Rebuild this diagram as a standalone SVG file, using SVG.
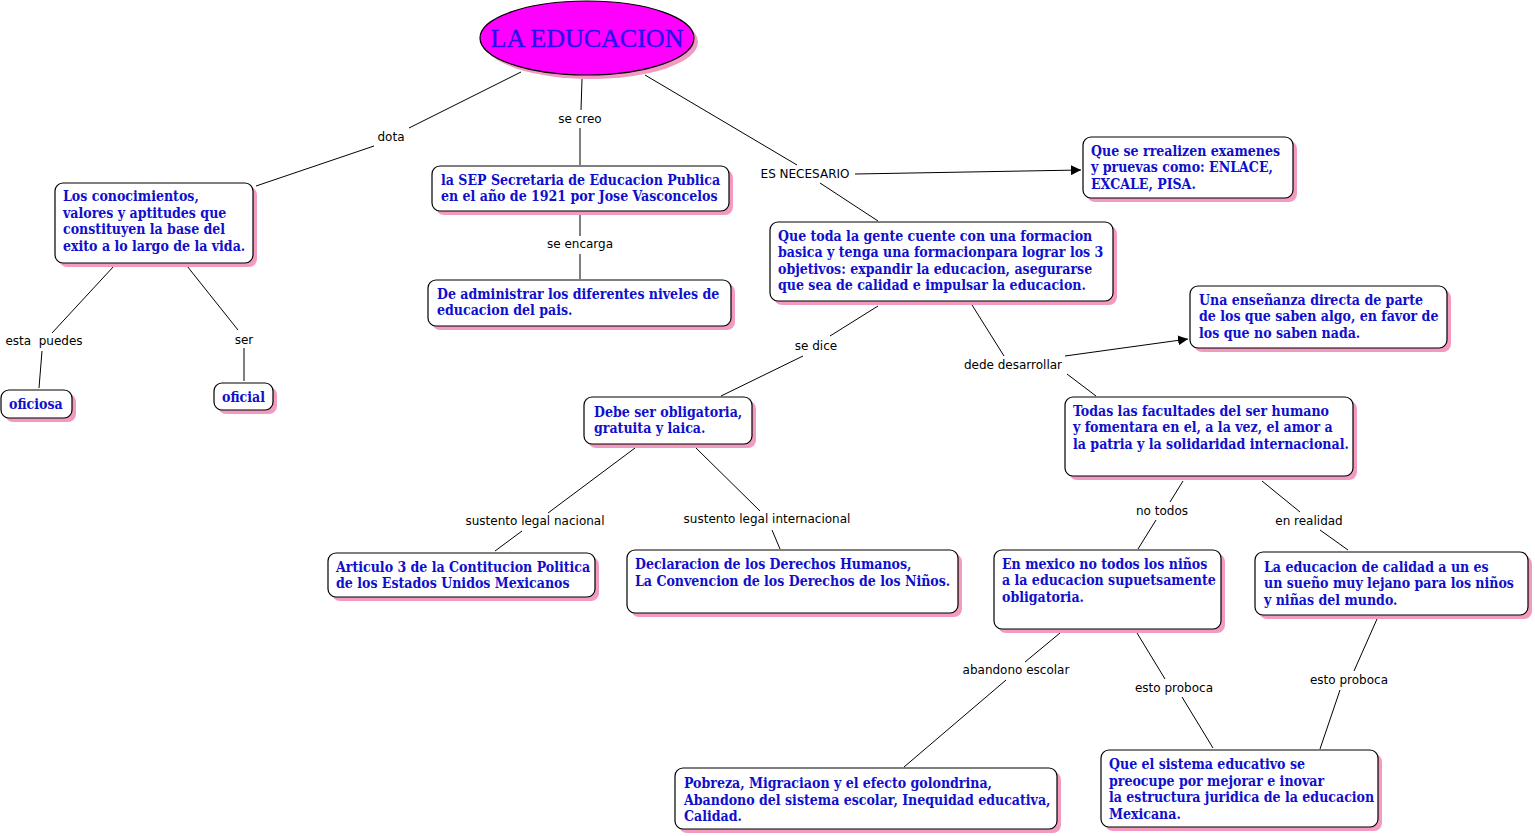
<svg xmlns="http://www.w3.org/2000/svg" width="1535" height="836" viewBox="0 0 1535 836">
<style>
.box{fill:#fff;stroke:#000;stroke-width:1.2}
.sh{fill:#f29ac0}
.b{font-family:"DejaVu Serif Condensed","DejaVu Serif",serif;font-weight:bold;font-size:14px;fill:#0f0fcc}
.lbl{font-family:"DejaVu Sans",Verdana,sans-serif;font-size:12px;fill:#000}
.c line{stroke:#000;stroke-width:1}
</style>
<defs>
<marker id="ar" viewBox="0 0 10 10" refX="10" refY="5" markerWidth="10" markerHeight="10" markerUnits="userSpaceOnUse" orient="auto"><path d="M0,0L10,5L0,10z" fill="#000"/></marker>
</defs>
<rect width="1535" height="836" fill="#fff"/>
<g class="c">
<line x1="521" y1="72" x2="409" y2="128"/>
<line x1="374" y1="146" x2="256" y2="186"/>
<line x1="582" y1="79" x2="581" y2="110"/>
<line x1="580" y1="128" x2="580" y2="165"/>
<line x1="580" y1="214" x2="580" y2="236"/>
<line x1="580" y1="254" x2="580" y2="279"/>
<line x1="645" y1="75" x2="797" y2="165"/>
<line x1="855" y1="174" x2="1081" y2="170" marker-end="url(#ar)"/>
<line x1="820" y1="183" x2="878" y2="221"/>
<line x1="878" y1="306" x2="830" y2="336"/>
<line x1="803" y1="356" x2="721" y2="396"/>
<line x1="972" y1="305" x2="1004" y2="356"/>
<line x1="1065" y1="356" x2="1188" y2="339" marker-end="url(#ar)"/>
<line x1="1067" y1="374" x2="1096" y2="396"/>
<line x1="114" y1="266" x2="52" y2="333"/>
<line x1="42" y1="351" x2="39" y2="388"/>
<line x1="187" y1="266" x2="238" y2="330"/>
<line x1="244" y1="348" x2="244" y2="381"/>
<line x1="635" y1="448" x2="548" y2="513"/>
<line x1="522" y1="531" x2="495" y2="551"/>
<line x1="696" y1="448" x2="760" y2="511"/>
<line x1="772" y1="530" x2="780" y2="549"/>
<line x1="1183" y1="481" x2="1170" y2="502"/>
<line x1="1156" y1="520" x2="1138" y2="549"/>
<line x1="1262" y1="481" x2="1300" y2="512"/>
<line x1="1320" y1="530" x2="1348" y2="550"/>
<line x1="1060" y1="633" x2="1025" y2="662"/>
<line x1="1006" y1="680" x2="904" y2="767"/>
<line x1="1137" y1="633" x2="1165" y2="679"/>
<line x1="1182" y1="697" x2="1213" y2="748"/>
<line x1="1377" y1="619" x2="1354" y2="671"/>
<line x1="1340" y1="690" x2="1320" y2="749"/>
<g class="lbl" text-anchor="middle">
<text x="391" y="141">dota</text>
<text x="580" y="123">se creo</text>
<text x="580" y="248">se encarga</text>
<text x="805" y="178">ES NECESARIO</text>
<text x="816" y="350">se dice</text>
<text x="1013" y="369">dede desarrollar</text>
<text x="44" y="345" xml:space="preserve">esta  puedes</text>
<text x="244" y="344">ser</text>
<text x="535" y="525">sustento legal nacional</text>
<text x="767" y="523">sustento legal internacional</text>
<text x="1162" y="515">no todos</text>
<text x="1309" y="525">en realidad</text>
<text x="1016" y="674">abandono escolar</text>
<text x="1174" y="692">esto proboca</text>
<text x="1349" y="684">esto proboca</text>
</g>
</g>
<g id="n-title">
<ellipse cx="591" cy="42" rx="107" ry="37" class="sh"/>
<ellipse cx="587" cy="38" rx="107" ry="37" fill="#ff00ff" stroke="#000" stroke-width="1.2"/>
<text x="587" y="47" text-anchor="middle" font-family="Liberation Serif,Times New Roman,serif" font-size="26" fill="#2a10f0" stroke="#2a10f0" stroke-width="0.4">LA EDUCACION</text>
</g>
<g id="n1">
<rect x="59" y="187" width="198" height="80" rx="8" class="sh"/>
<rect x="55" y="183" width="198" height="80" rx="8" class="box"/>
<text class="b"><tspan x="63" y="201">Los conocimientos,</tspan><tspan x="63" y="217.5">valores y aptitudes que</tspan><tspan x="63" y="234">constituyen la base del</tspan><tspan x="63" y="250.5">exito a lo largo de la vida.</tspan></text>
</g>
<g id="n2">
<rect x="5" y="394" width="71" height="28" rx="8" class="sh"/>
<rect x="1" y="390" width="71" height="28" rx="8" class="box"/>
<text class="b" x="9" y="409" font-size="15.5">oficiosa</text>
</g>
<g id="n3">
<rect x="218" y="387" width="59" height="27" rx="8" class="sh"/>
<rect x="214" y="383" width="59" height="27" rx="8" class="box"/>
<text class="b" x="222" y="402" font-size="15.5">oficial</text>
</g>
<g id="n4">
<rect x="436" y="170" width="297" height="45" rx="8" class="sh"/>
<rect x="432" y="166" width="297" height="45" rx="8" class="box"/>
<text class="b"><tspan x="441" y="184.5">la SEP Secretaria de Educacion Publica</tspan><tspan x="441" y="201">en el año de 1921 por Jose Vasconcelos</tspan></text>
</g>
<g id="n5">
<rect x="432" y="284" width="303" height="46" rx="8" class="sh"/>
<rect x="428" y="280" width="303" height="46" rx="8" class="box"/>
<text class="b"><tspan x="437" y="298.5">De administrar los diferentes niveles de</tspan><tspan x="437" y="315">educacion del pais.</tspan></text>
</g>
<g id="n6">
<rect x="1087" y="141" width="210" height="61" rx="8" class="sh"/>
<rect x="1083" y="137" width="210" height="61" rx="8" class="box"/>
<text class="b"><tspan x="1091" y="155.5">Que se rrealizen examenes</tspan><tspan x="1091" y="172">y pruevas como: ENLACE,</tspan><tspan x="1091" y="188.5">EXCALE, PISA.</tspan></text>
</g>
<g id="n7">
<rect x="774" y="226" width="343" height="79" rx="8" class="sh"/>
<rect x="770" y="222" width="343" height="79" rx="8" class="box"/>
<text class="b"><tspan x="778" y="240.5">Que toda la gente cuente con una formacion</tspan><tspan x="778" y="257">basica y tenga una formacionpara lograr los 3</tspan><tspan x="778" y="273.5">objetivos: expandir la educacion, asegurarse</tspan><tspan x="778" y="290">que sea de calidad e impulsar la educacion.</tspan></text>
</g>
<g id="n8">
<rect x="1194" y="290" width="257" height="62" rx="8" class="sh"/>
<rect x="1190" y="286" width="257" height="62" rx="8" class="box"/>
<text class="b"><tspan x="1199" y="304.5">Una enseñanza directa de parte</tspan><tspan x="1199" y="321">de los que saben algo, en favor de</tspan><tspan x="1199" y="337.5">los que no saben nada.</tspan></text>
</g>
<g id="n9">
<rect x="588" y="401" width="168" height="47" rx="8" class="sh"/>
<rect x="584" y="397" width="168" height="47" rx="8" class="box"/>
<text class="b"><tspan x="594" y="416.5">Debe ser obligatoria,</tspan><tspan x="594" y="433">gratuita y laica.</tspan></text>
</g>
<g id="n10">
<rect x="1069" y="401" width="288" height="79" rx="8" class="sh"/>
<rect x="1065" y="397" width="288" height="79" rx="8" class="box"/>
<text class="b"><tspan x="1073" y="415.5">Todas las facultades del ser humano</tspan><tspan x="1073" y="432">y fomentara en el, a la vez, el amor a</tspan><tspan x="1073" y="448.5">la patria y la solidaridad internacional.</tspan></text>
</g>
<g id="n11">
<rect x="332" y="557" width="267" height="44" rx="8" class="sh"/>
<rect x="328" y="553" width="267" height="44" rx="8" class="box"/>
<text class="b"><tspan x="336" y="571.5">Articulo 3 de la Contitucion Politica</tspan><tspan x="336" y="588">de los Estados Unidos Mexicanos</tspan></text>
</g>
<g id="n12">
<rect x="631" y="554" width="331" height="63" rx="8" class="sh"/>
<rect x="627" y="550" width="331" height="63" rx="8" class="box"/>
<text class="b"><tspan x="635" y="569">Declaracion de los Derechos Humanos,</tspan><tspan x="635" y="585.5">La Convencion de los Derechos de los Niños.</tspan></text>
</g>
<g id="n13">
<rect x="998" y="554" width="227" height="79" rx="8" class="sh"/>
<rect x="994" y="550" width="227" height="79" rx="8" class="box"/>
<text class="b"><tspan x="1002" y="568.5">En mexico no todos los niños</tspan><tspan x="1002" y="585">a la educacion supuetsamente</tspan><tspan x="1002" y="601.5">obligatoria.</tspan></text>
</g>
<g id="n14">
<rect x="1259" y="556" width="273" height="63" rx="8" class="sh"/>
<rect x="1255" y="552" width="273" height="63" rx="8" class="box"/>
<text class="b"><tspan x="1264" y="571.5">La educacion de calidad a un es</tspan><tspan x="1264" y="588">un sueño muy lejano para los niños</tspan><tspan x="1264" y="604.5">y niñas del mundo.</tspan></text>
</g>
<g id="n15">
<rect x="679" y="772" width="382" height="61" rx="8" class="sh"/>
<rect x="675" y="768" width="382" height="61" rx="8" class="box"/>
<text class="b"><tspan x="684" y="788">Pobreza, Migraciaon y el efecto golondrina,</tspan><tspan x="684" y="804.5">Abandono del sistema escolar, Inequidad educativa,</tspan><tspan x="684" y="821">Calidad.</tspan></text>
</g>
<g id="n16">
<rect x="1105" y="754" width="277" height="77" rx="8" class="sh"/>
<rect x="1101" y="750" width="277" height="77" rx="8" class="box"/>
<text class="b"><tspan x="1109" y="769">Que el sistema educativo se</tspan><tspan x="1109" y="785.5">preocupe por mejorar e inovar</tspan><tspan x="1109" y="802">la estructura juridica de la educacion</tspan><tspan x="1109" y="818.5">Mexicana.</tspan></text>
</g>
</svg>
